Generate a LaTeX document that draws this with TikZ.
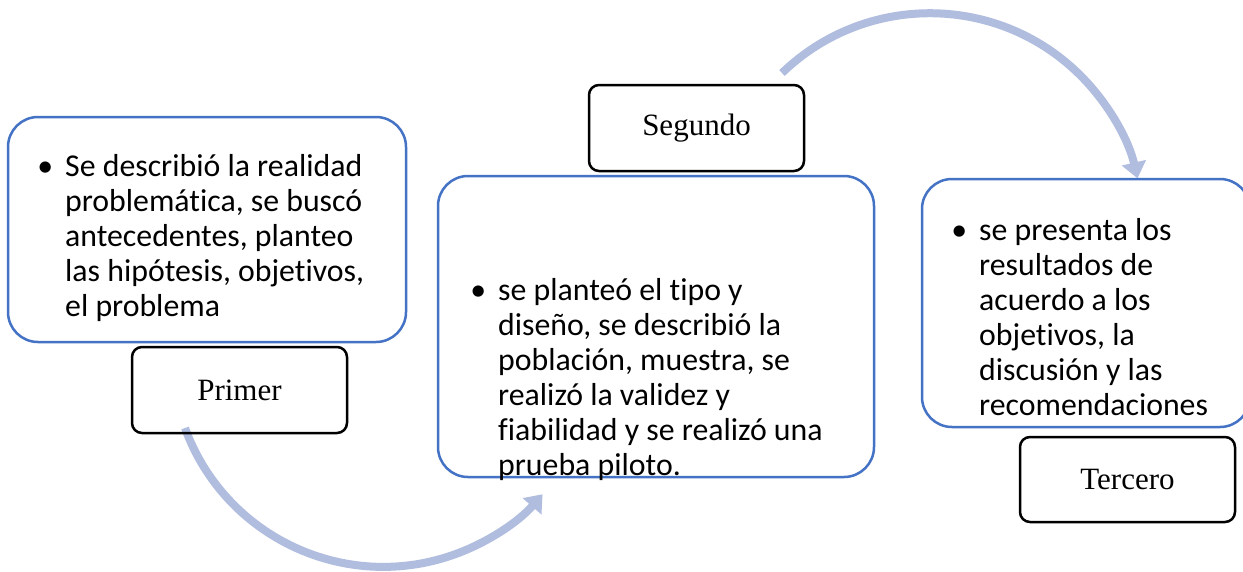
\documentclass[tikz,border=0pt]{standalone}
\usepackage{fontspec}
\setmainfont{Carlito}[Ligatures={NoCommon}]
\newfontfamily\timesf{Liberation Serif}
\usetikzlibrary{arrows.meta}
\definecolor{boxblue}{RGB}{68,114,196}
\definecolor{arrowblue}{RGB}{176,189,223}
\begin{document}
\begin{tikzpicture}[x=1pt,y=1pt,
  bluebox/.style={draw=boxblue, line width=2.5pt, rounded corners=30pt, inner sep=0pt},
  labelbox/.style={draw=black, line width=2.5pt, rounded corners=10pt, inner sep=0pt,
    minimum width=215pt, minimum height=86pt, font=\timesf\fontsize{31}{36}\selectfont},
  bullettext/.style={anchor=north west, inner sep=0pt, align=left,
    font=\fontsize{31.8}{35}\selectfont},
  flow/.style={draw=arrowblue, line width=8pt, -{Triangle[length=16pt,width=24pt]}}]
\useasboundingbox (0,0) rectangle (1243,-571);
\fill[white] (0,0) rectangle (1243,-571);

% arrows
\coordinate (a1s) at (185,-428);
\coordinate (a2s) at (782,-73);
\draw[flow] (a1s) arc[start angle=200, end angle=319, radius=211pt];
\draw[flow] (a2s) arc[start angle=134, end angle=13, radius=213pt];

% boxes
\node[bluebox, minimum width=398pt, minimum height=225pt] (b1) at (207,-229.5) {};
\node[labelbox] (l1) at (239.5,-390) {Primer};
\node[bullettext] (t1) at (65,-150.7) {\rule{0pt}{26pt}\llap{•\hspace{12pt}}Se describió la realidad\\problemática, se buscó\\antecedentes, planteo\\las hipótesis, objetivos,\\el problema};

\node[bluebox, minimum width=436pt, minimum height=301pt] (b2) at (656,-326.5) {};
\node[labelbox] (l2) at (696.5,-128) {Segundo};
\node[bullettext] (t2) at (498,-274.7) {\rule{0pt}{26pt}\llap{•\hspace{12pt}}se planteó el tipo y\\diseño, se describió la\\población, muestra, se\\realizó la validez y\\fiabilidad y se realizó una\\prueba piloto.};

\node[bluebox, minimum width=328pt, minimum height=248pt] (b3) at (1086,-303) {};
\node[labelbox, minimum height=85pt] (l3) at (1127.5,-479.5) {Tercero};
\node[bullettext] (t3) at (979,-214) {\rule{0pt}{26pt}\llap{•\hspace{12pt}}se presenta los\\resultados de\\acuerdo a los\\objetivos, la\\discusión y las\\recomendaciones};
\end{tikzpicture}
\end{document}
